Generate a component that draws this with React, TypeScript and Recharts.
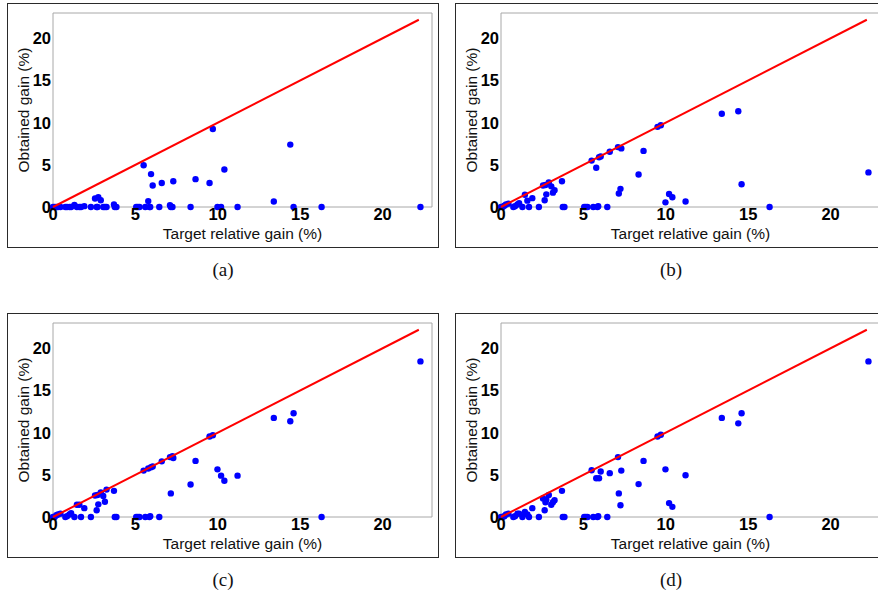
import { ScatterChart, Scatter, XAxis, YAxis } from "recharts";

// target relative gain (%) of each test case, shared by the four runs
const target = [
  0, 0.1, 0.2, 0.3, 0.45, 0.75, 0.85, 1.0, 1.1, 1.3, 1.45, 1.6, 1.7, 1.9, 2.3,
  2.55, 2.65, 2.7, 2.75, 2.9, 3.05, 3.15, 3.25, 3.7, 3.75, 3.85, 5.05, 5.15, 5.25,
  5.5, 5.6, 5.78, 5.85, 5.9, 5.95, 6.05, 6.45, 6.6, 7.1, 7.15, 7.25, 7.3, 8.35,
  8.65, 9.5, 9.7, 9.98, 10.2, 10.4, 11.2, 13.4, 14.4, 14.6, 16.3, 22.3,
];

// obtained gain (%) per run
const gainA = [
  0, 0, 0, 0, 0, 0, 0, 0, 0, 0.25, 0, 0, 0, 0.1, 0, 1.0, 0, 0, 1.15, 0.8, 0, 0, 0,
  0.3, 0, 0, 0, 0, 0, 4.95, 0, 0.7, 0, 0, 3.9, 2.55, 0, 2.85, 0.2, 0, 0, 3.05, 0,
  3.3, 2.85, 9.25, 0, 0, 4.45, 0, 0.65, 7.4, 0, 0, 0,
];
const gainB = [
  0, 0, 0.15, 0.3, 0.4, 0, 0.1, 0.3, 0.45, 0, 1.45, 0.75, 0, 1.05, 0, 2.55, 0.8,
  2.6, 1.5, 2.9, 2.45, 1.7, 2.0, 3.05, 0, 0, 0, 0, 0, 5.5, 0, 4.65, 0, 0.1, 5.9,
  6.0, 0, 6.55, 7.1, 1.6, 2.15, 6.95, 3.85, 6.65, 9.5, 9.7, 0.55, 1.55, 1.15,
  0.65, 11.05, 11.35, 2.7, 0, 4.1,
];
const gainC = [
  0, 0, 0.2, 0.3, 0.4, 0, 0.1, 0.3, 0.45, 0, 1.45, 1.45, 0, 1.05, 0, 2.55, 0.8,
  2.6, 1.5, 2.9, 2.5, 1.8, 3.25, 3.1, 0, 0, 0, 0, 0, 5.5, 0, 5.75, 0, 0.1, 5.9,
  6.0, 0, 6.6, 7.1, 2.8, 7.2, 7.0, 3.85, 6.65, 9.55, 9.7, 5.65, 4.9, 4.3, 4.9,
  11.75, 11.35, 12.3, 0, 18.45,
];
const gainD = [
  0, 0, 0.1, 0.3, 0.4, 0, 0.1, 0.4, 0.4, 0, 0.6, 0.3, 0, 1.05, 0, 2.2, 0.8, 1.75,
  2.05, 2.6, 1.45, 1.75, 2.0, 3.1, 0, 0, 0, 0, 0, 5.55, 0, 4.6, 0, 0.1, 4.6, 5.4,
  0, 5.2, 7.1, 2.8, 1.4, 5.5, 3.9, 6.65, 9.55, 9.75, 5.65, 1.65, 1.2, 4.95,
  11.75, 11.1, 12.3, 0, 18.45,
];

const diagEnds = [0, 22.2];
const axisTicks = [0, 5, 10, 15, 20];
const innerTicks = [5, 10, 15, 20];

const panels = [
  { caption: "(a)", gains: gainA, left: 7, top: 3 },
  { caption: "(b)", gains: gainB, left: 455, top: 3 },
  { caption: "(c)", gains: gainC, left: 7, top: 313 },
  { caption: "(d)", gains: gainD, left: 455, top: 313 },
];

const tickStyle = { fontSize: 16.5, fontWeight: 700, fill: "#000", style: { fontWeight: 700 } };
const grey = "#a8a8a8";

function GainPanel({ caption, gains, left, top }: { caption: string; gains: number[]; left: number; top: number }) {
  const points = target.map((t, i) => ({ x: t, y: gains[i] }));
  const diag = diagEnds.map((v) => ({ x: v, y: v }));
  return (
    <>
      <div
        style={{
          position: "absolute",
          left,
          top,
          width: 430,
          height: 243,
          border: "1px solid #2a2a2a",
          background: "#fff",
          fontFamily: "'Liberation Sans', Arial, sans-serif",
        }}
      >
        <ScatterChart width={430} height={243} margin={{ top: 9, right: 6, bottom: 0, left: 0 }}>
          <XAxis
            xAxisId="b"
            type="number"
            dataKey="x"
            domain={[0, 23]}
            ticks={axisTicks}
            tick={tickStyle}
            tickLine={false}
            tickSize={0}
            tickMargin={1}
            axisLine={{ stroke: grey }}
            height={40}
            label={{ value: "Target relative gain (%)", position: "insideBottom", offset: 8, fill: "#111", fontSize: 15.5 }}
          />
          <XAxis
            xAxisId="t"
            orientation="top"
            type="number"
            dataKey="x"
            domain={[0, 23]}
            ticks={innerTicks}
            mirror
            tick={false}
            tickSize={4}
            tickLine={{ stroke: grey }}
            axisLine={{ stroke: grey }}
          />
          <YAxis
            yAxisId="l"
            type="number"
            dataKey="y"
            domain={[0, 23]}
            ticks={axisTicks}
            tick={tickStyle}
            tickLine={false}
            tickSize={0}
            tickMargin={2}
            axisLine={{ stroke: grey }}
            width={45}
            label={{
              value: "Obtained gain (%)",
              angle: -90,
              position: "insideLeft",
              offset: 15,
              fill: "#111",
              fontSize: 15.5,
              style: { textAnchor: "middle" },
            }}
          />
          <YAxis
            yAxisId="r"
            orientation="right"
            type="number"
            dataKey="y"
            domain={[0, 23]}
            ticks={innerTicks}
            mirror
            tick={false}
            tickSize={4}
            tickLine={{ stroke: grey }}
            axisLine={{ stroke: grey }}
          />
          <Scatter
            xAxisId="b"
            yAxisId="l"
            data={points}
            fill="#0000ff"
            isAnimationActive={false}
            shape={(p: any) => <circle cx={p.cx} cy={p.cy} r={3.2} fill="#0000ff" />}
          />
          <Scatter
            xAxisId="b"
            yAxisId="l"
            data={diag}
            fill="#ff0000"
            line={{ stroke: "#ff0000", strokeWidth: 2 }}
            shape={() => <g />}
            isAnimationActive={false}
          />
        </ScatterChart>
      </div>
      <div
        style={{
          position: "absolute",
          left,
          top: top + 257,
          width: 432,
          textAlign: "center",
          fontFamily: "'Liberation Serif', 'Times New Roman', serif",
          fontSize: 19,
          lineHeight: "20px",
          color: "#111",
        }}
      >
        {caption}
      </div>
    </>
  );
}

export default function App() {
  return (
    <div
      style={{
        position: "absolute",
        left: 0,
        top: 0,
        width: 878,
        height: 601,
        overflow: "hidden",
        background: "#fff",
      }}
    >
      {panels.map((p) => (
        <GainPanel key={p.caption} {...p} />
      ))}
    </div>
  );
}
